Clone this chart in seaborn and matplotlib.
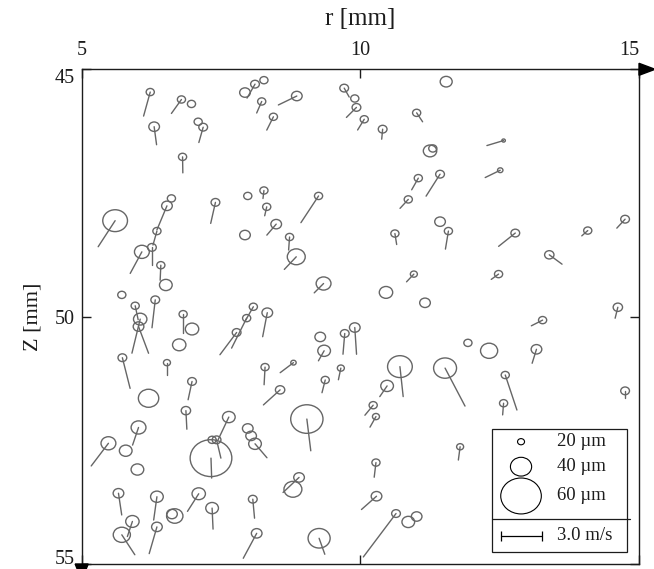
import numpy as np
import pandas as pd
import matplotlib
matplotlib.use("Agg")
import matplotlib.pyplot as plt
import seaborn as sns
from matplotlib.path import Path
from matplotlib.transforms import Affine2D
from matplotlib.patches import Rectangle, Polygon

# ---------------- data ----------------
r_mm = [6.23, 6.79, 6.97, 6.30, 7.09, 7.18, 6.81, 5.60, 6.61, 6.53,
        6.35, 7.40, 7.98, 8.27, 8.32, 7.93, 8.11, 8.27, 8.23, 8.44,
        7.93, 8.86, 9.71, 9.90, 9.93, 10.07, 10.40, 11.01, 11.54, 11.25,
        11.30, 11.04, 11.43, 10.86, 9.25, 8.49, 8.73, 10.62, 11.43, 11.58,
        12.57, 12.51, 14.75, 14.08, 12.78, 6.26, 6.08, 6.42, 6.51, 5.72,
        6.32, 5.96, 6.05, 6.02, 6.82, 6.98, 6.75, 5.73, 6.53, 6.98,
        7.78, 8.08, 7.96, 8.33, 8.29, 8.85, 9.34, 10.96, 10.46, 11.16,
        9.28, 9.35, 9.72, 9.90, 8.80, 9.65, 9.37, 8.56, 10.71, 10.48,
        11.52, 13.39, 12.48, 14.62, 13.27, 11.93, 12.31, 13.16, 12.60, 14.75,
        12.57, 11.79, 6.20, 6.87, 6.02, 5.48, 5.79, 6.00, 7.64, 7.98,
        8.04, 8.11, 7.32, 7.42, 7.34, 5.66, 5.91, 5.72, 6.35, 6.35,
        6.67, 6.62, 7.10, 7.34, 8.07, 8.14, 9.04, 8.90, 8.79, 9.26,
        10.23, 10.28, 10.28, 10.29, 10.64, 11.01, 10.86]

z_mm = [45.46, 45.61, 45.70, 46.16, 46.06, 46.17, 46.77, 48.06, 47.61, 47.76,
        48.27, 47.69, 47.56, 47.45, 47.78, 45.47, 45.30, 45.22, 45.65, 45.96,
        48.35, 45.54, 45.38, 45.59, 45.77, 46.01, 46.21, 45.88, 45.25, 46.65,
        46.60, 47.20, 47.12, 47.63, 47.56, 48.13, 48.39, 48.32, 48.08, 48.27,
        46.44, 47.04, 48.03, 48.26, 48.31, 48.60, 48.69, 48.96, 49.36, 49.56,
        49.66, 49.78, 50.05, 50.20, 49.95, 50.25, 50.57, 50.83, 50.93, 51.31,
        50.32, 49.80, 50.03, 49.92, 51.02, 48.79, 49.33, 49.14, 49.51, 49.72,
        50.41, 50.69, 50.34, 50.22, 50.93, 51.04, 51.28, 51.48, 51.01, 51.40,
        51.04, 48.75, 49.14, 49.81, 50.07, 50.53, 50.69, 50.66, 51.18, 51.50,
        51.75, 52.63, 51.65, 51.90, 52.24, 52.56, 52.71, 53.09, 52.03, 52.26,
        52.41, 52.57, 52.86, 52.49, 52.49, 53.57, 54.14, 54.41, 53.64, 54.25,
        54.03, 53.99, 53.58, 53.87, 53.69, 54.38, 52.07, 53.25, 53.49, 54.48,
        51.79, 52.02, 52.95, 53.63, 53.98, 54.04, 54.15]

# radial velocity (m/s)
u_ms = [-0.49, -0.74, 0, 0.18, 0, -0.32, 0.02, -1.25, 0, -0.74,
        -0.29, -0.35, 0, -0.07, -0.15, 0, -0.59, 0, -0.37, -0.49,
        0, -1.36, 0.37, 0, -0.74, -0.49, -0.07, 0.44, 0, 0,
        0, -0.49, -1.03, -0.61, -1.30, -0.69, -0.07, 0.13, 0, -0.22,
        -1.23, -1.11, -0.61, -0.44, -1.23, 0, -0.86, -0.05, 0, 0,
        -0.24, 0.22, -0.61, 0.74, 0, 0, 0, 0.57, 0, -0.29,
        -1.23, -0.59, -1.11, -0.34, -0.07, -0.88, -0.69, -0.54, 0, 0,
        0, -0.42, -0.13, 0.13, -0.98, -0.18, -0.24, -1.23, 0.24, -0.54,
        1.47, 0.94, -0.54, -0.20, -0.83, 0, 0, -0.32, 0.86, 0,
        -0.07, -0.13, 0, 0.07, -0.44, -1.27, 0, 0, -0.79, 0,
        0, 0.88, 0.05, 0.32, 0, 0.24, -0.37, 0.96, -0.24, -0.57,
        0, 0, -0.83, 0.07, 0.13, -0.99, 0.29, -1.18, 0, 0.42,
        -0.61, -0.44, -0.13, -1.11, -2.41, 0, 0]

# axial velocity (m/s, positive = increasing z)
w_ms = [1.77, 1.03, 0, 1.33, 0, 1.13, 1.18, 1.92, 0, 1.77,
        1.03, 1.55, 0, 0.59, 0.66, 0, 1.03, 0, 0.85, 0.98,
        0, 0.66, 0.66, 0, 0.74, 0.79, 0.74, 0.66, 0, 0,
        0, 0.86, 1.62, 0.66, 1.97, 0.81, 0.96, 0.81, 0, 1.33,
        0.37, 0.54, 0.66, 0.39, 0.98, 1.33, 1.59, 1.11, 0, 0,
        2.06, 1.03, 2.51, 1.97, 1.40, 0, 0, 2.26, 0.91, 1.35,
        1.64, 1.03, 2.21, 1.77, 1.30, 0.93, 0.69, 0.57, 0, 0,
        0, 0.74, 1.53, 1.97, 0.74, 0.86, 0.94, 1.11, 2.21, 0.79,
        2.80, 0.69, 0.39, 0.81, 0.42, 0, 0, 1.03, 2.58, 0.52,
        0.86, 0.98, 0, 1.37, 1.30, 1.67, 0, 0, 1.67, 0,
        0, 1.03, 1.47, 1.35, 0, 1.60, 1.11, 1.47, 1.72, 1.97,
        0, 0, 1.30, 1.55, 1.40, 1.84, 2.34, 1.11, 0, 1.18,
        0.74, 0.78, 1.08, 0.98, 3.20, 0, 0]

# droplet diameter (micrometres)
d_um = [22, 22, 22, 26, 22, 23, 22, 44, 22, 26,
        22, 23, 22, 22, 22, 26, 23, 22, 22, 22,
        26, 26, 23, 22, 23, 22, 23, 22, 28, 30,
        22, 22, 23, 22, 22, 26, 22, 22, 26, 22,
        13, 17, 23, 22, 23, 23, 32, 22, 29, 22,
        23, 22, 30, 26, 22, 30, 30, 23, 20, 23,
        23, 22, 22, 26, 22, 36, 32, 20, 30, 26,
        26, 29, 23, 26, 17, 20, 22, 24, 44, 29,
        42, 24, 22, 24, 22, 22, 35, 26, 22, 23,
        22, 20, 39, 24, 32, 32, 29, 29, 29, 26,
        26, 29, 61, 23, 22, 26, 30, 35, 29, 26,
        34, 26, 30, 29, 23, 26, 52, 26, 36, 41,
        22, 20, 22, 26, 23, 26, 29]

legend_d_um = [20, 40, 60]
legend_labels = ["20 \u00b5m", "40 \u00b5m", "60 \u00b5m"]
scale_ms = 3.0
scale_label = "3.0 m/s"
x_ticks = [5, 10, 15]
y_ticks = [45, 50, 55]
x_label = "r [mm]"
y_label = "Z [mm]"

# ---------------- style ----------------
GRAY = "#666666"
DARK = "#1c1c1c"
PX_PER_MS = 40.7 / 3.0      # vector length in pixels per m/s
DPI = 100

sns.set_theme(style="white")
plt.rcParams["font.family"] = ["Liberation Serif", "DejaVu Serif"]

fig = plt.figure(figsize=(6.54, 5.69), dpi=DPI)
ax = fig.add_axes([0.1249, 0.0088, 0.8522, 0.8694])
ax.set_xlim(5, 15)
ax.set_ylim(55, 45)


def marker_area(d):
    # pixel width of the drawn ring, then area in points^2
    width_px = 7.0 * (np.asarray(d, dtype=float) / 20.0) ** 1.6
    return (width_px * 72.0 / DPI) ** 2


ellipse = Path.unit_circle().transformed(Affine2D().scale(1.13, 1.0))

# ---- velocity vectors ----
sx = ax.bbox.width / 10.0
sz = ax.bbox.height / 10.0
rows = []
for i, (r, z, u, w) in enumerate(zip(r_mm, z_mm, u_ms, w_ms)):
    if u == 0 and w == 0:
        continue
    rows.append((i, r, z))
    rows.append((i, r + u * PX_PER_MS / sx, z + w * PX_PER_MS / sz))
seg = pd.DataFrame(rows, columns=["pid", "r", "z"])
sns.lineplot(data=seg, x="r", y="z", units="pid", estimator=None, sort=False,
             color=GRAY, lw=1.0, ax=ax, legend=False)

# ---- droplets ----
df = pd.DataFrame({"r": r_mm, "z": z_mm, "s": marker_area(d_um)})
smin, smax = df["s"].min(), df["s"].max()
sns.scatterplot(data=df, x="r", y="z", size="s", sizes=(smin, smax),
                size_norm=(smin, smax), marker=ellipse, color=GRAY,
                facecolor="none", edgecolor=GRAY, linewidth=1.0,
                legend=False, ax=ax, zorder=3)

ax.set_xlim(5, 15)
ax.set_ylim(55, 45)

# ---- axes styling ----
ax.set_xticks(x_ticks)
ax.set_yticks(y_ticks)
ax.xaxis.tick_top()
ax.xaxis.set_label_position("top")
ax.tick_params(axis="both", which="major", direction="in", length=6.5,
               width=1.0, color=DARK, labelcolor=DARK, labelsize=14.5,
               top=True, bottom=True, left=True, right=True,
               labeltop=True, labelbottom=False, labelleft=True,
               labelright=False)
ax.tick_params(axis="x", pad=7)
ax.tick_params(axis="y", pad=5)
ax.set_xlabel(x_label, fontsize=18, color=DARK, labelpad=11)
ax.set_ylabel(y_label, fontsize=16, color=DARK, labelpad=9)
for sp in ax.spines.values():
    sp.set_visible(True)
    sp.set_color(DARK)
    sp.set_linewidth(1.0)

ylabs = ax.get_yticklabels()
ylabs[0].set_verticalalignment("top")
ylabs[-1].set_verticalalignment("baseline")
xlabs = ax.get_xticklabels()
xlabs[-1].set_horizontalalignment("right")

# axis arrow heads
ax.add_patch(Polygon([(1.0, 1.0121), (1.0287, 1.0), (1.0, 0.9879)],
                     closed=True, transform=ax.transAxes, clip_on=False,
                     color="black", zorder=5))
ax.add_patch(Polygon([(-0.0117, 0.0), (0.0117, 0.0), (0.0, -0.0323)],
                     closed=True, transform=ax.transAxes, clip_on=False,
                     color="black", zorder=5))

# ---- legend box ----
bx0, bx1 = 0.7357, 0.9780
by0, by1 = 0.0249, 0.2723
ax.add_patch(Rectangle((bx0, by0), bx1 - bx0, by1 - by0, transform=ax.transAxes,
                       fill=False, ec=DARK, lw=0.9, zorder=6))
ax.plot([bx0, 0.983], [0.0904, 0.0904], transform=ax.transAxes,
        color=DARK, lw=0.9, zorder=6, clip_on=False)

leg_y = [0.2472, 0.1967, 0.1375]
ax.scatter([0.7883] * 3, leg_y, s=marker_area(legend_d_um), marker=ellipse,
           facecolor="none", edgecolor="black", linewidth=0.8,
           transform=ax.transAxes, zorder=7, clip_on=False)
for yy, lab in zip(leg_y, legend_labels):
    ax.text(0.8523, yy, lab, transform=ax.transAxes, fontsize=13.5,
            ha="left", va="center", color=DARK, zorder=7)

bar_len = scale_ms * PX_PER_MS / ax.bbox.width
bar_y = 0.0572
ax.plot([0.7524, 0.7524 + bar_len], [bar_y, bar_y], transform=ax.transAxes,
        color="black", lw=0.9, marker="|", markersize=7, mew=0.9, zorder=7)
ax.text(0.8523, bar_y, scale_label, transform=ax.transAxes, fontsize=13.5,
        ha="left", va="center", color=DARK, zorder=7)

fig.savefig("out.png", dpi=DPI)
